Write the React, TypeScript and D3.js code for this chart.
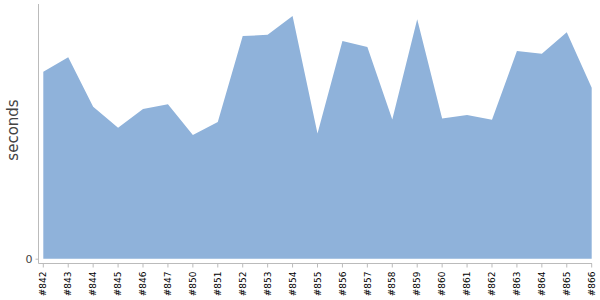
import React from "react";
import * as d3 from "d3";

const builds = ["#842","#843","#844","#845","#846","#847","#850","#851","#852","#853","#854","#855","#856","#857","#858","#859","#860","#861","#862","#863","#864","#865","#866"];
const seconds = [73.4,79.1,59.7,51.4,58.8,60.6,48.6,53.7,87.4,87.9,95.3,49.2,85.5,83.1,54.7,94.0,55.0,56.4,54.6,81.5,80.5,88.9,67.1];
const yTicks = [0];

export default function App() {
  const W = 600, H = 300;
  const x = d3.scalePoint<string>().domain(builds).range([43.3, 591.7]);
  const y = d3.scaleLinear().domain([0, 100]).range([258.7, 4]);
  const data = builds.map((b, i) => ({ b, v: seconds[i] }));
  const area = d3.area<{ b: string; v: number }>()
    .x(d => x(d.b) as number)
    .y0(y(0))
    .y1(d => y(d.v));
  const axisY = 263.5;
  const axisX = 38.5;
  const font = "'DejaVu Sans', Verdana, sans-serif";
  return (
    <svg width={W} height={H} style={{ position: "absolute", left: 0, top: 0 }}>
      <path d={area(data) || ""} fill="#8fb2da" />
      <line x1={axisX} x2={axisX} y1={4} y2={axisY} stroke="#bbb" strokeWidth={1} />
      <line x1={axisX} x2={592} y1={axisY} y2={axisY} stroke="#bbb" strokeWidth={1} />
      {yTicks.map(t => (
        <g key={t}>
          <line x1={axisX - 3} x2={axisX} y1={y(t) + 0.5} y2={y(t) + 0.5} stroke="#bbb" />
          <text x={axisX - 6} y={y(t)} dy="0.35em" textAnchor="end" fontFamily={font} fontSize={11} fill="#444">{t}</text>
        </g>
      ))}
      {builds.map(b => {
        const px = x(b) as number;
        return (
          <g key={b}>
            <line x1={px} x2={px} y1={axisY} y2={axisY + 4} stroke="#bbb" />
            <text transform={`translate(${px},${axisY + 8}) rotate(-90)`} dy="0.35em" textAnchor="end" fontFamily={font} fontSize={9} fill="#000">{b}</text>
          </g>
        );
      })}
      <text transform={`translate(13,130) rotate(-90)`} dy="0.35em" textAnchor="middle" fontFamily={font} fontSize={15} fill="#444">seconds</text>
    </svg>
  );
}
